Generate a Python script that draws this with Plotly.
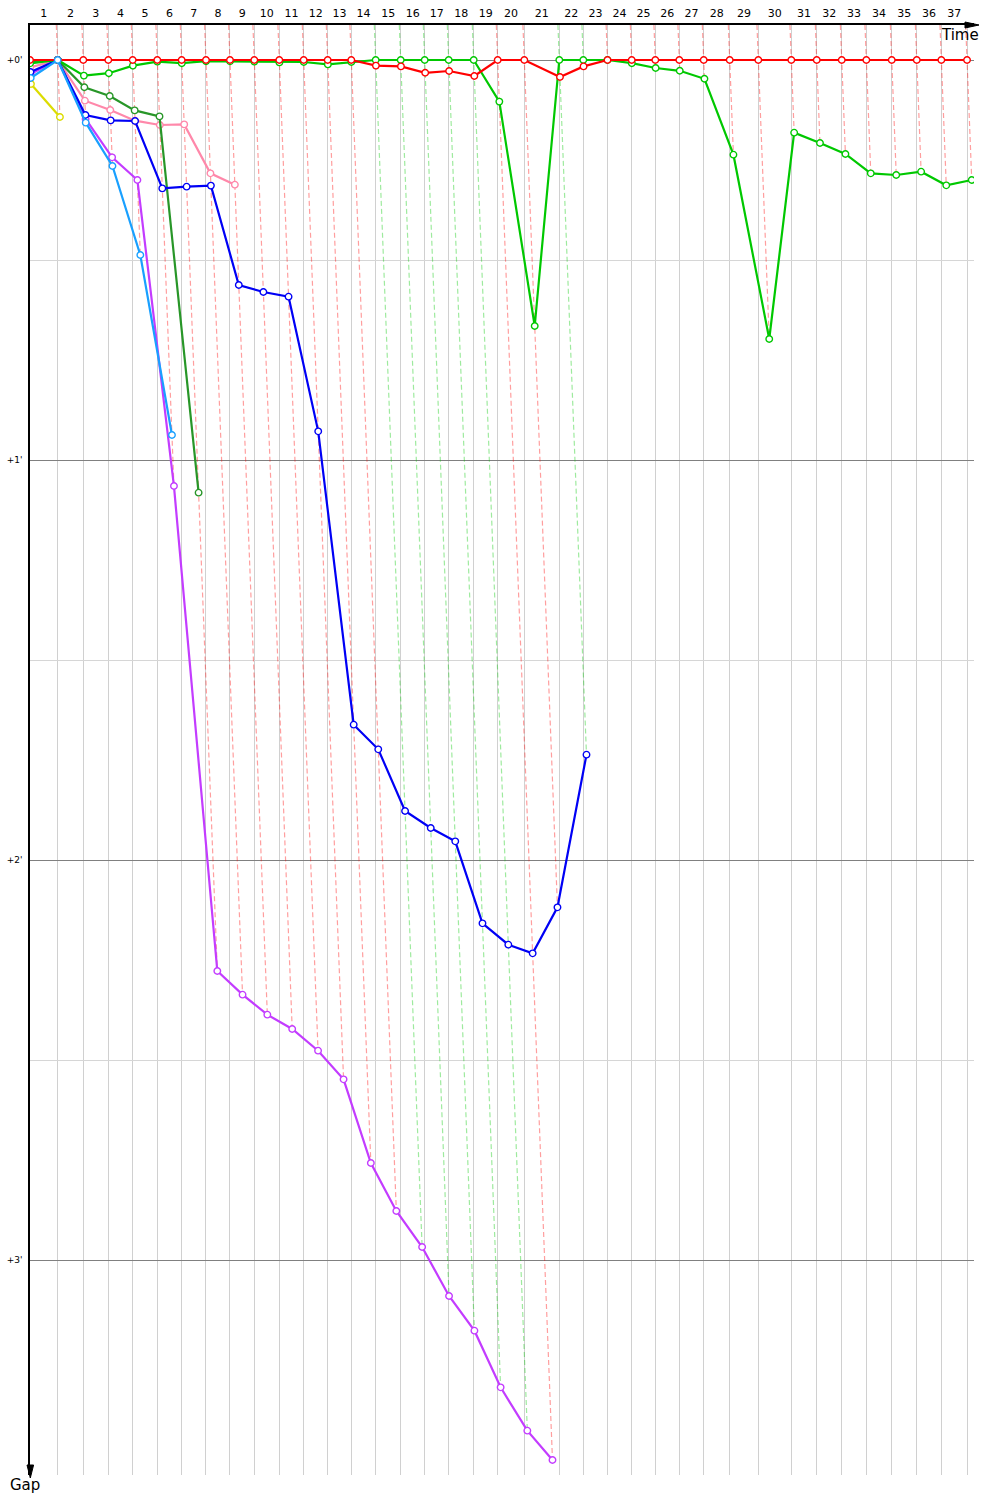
import numpy as np
import plotly.graph_objects as go

# ---------------- data ----------------
laps = list(range(1, 38))
# leader lap times (seconds)
leader_lap_times = [106.2, 98.1, 95.9, 93.5, 94.3, 93.5, 93.2, 92.0, 93.2, 95.9,
                    93.5, 92.0, 90.5, 93.5, 95.9, 92.0, 92.0, 95.9, 92.0, 102.0,
                    134.2, 92.0, 92.8, 92.8, 90.5, 92.0, 93.5, 99.7, 109.7, 126.5,
                    97.4, 95.9, 94.3, 97.4, 95.9, 94.3, 98.5]
# which car leads at the end of each lap (R = red car, G = green car)
lap_leader = ["R"] * 13 + ["G"] * 5 + ["R", "R", "G", "G"] + ["R"] * 15

# gaps to leader in seconds, index 0 = start, index k = end of lap k
gap_red = [0, 0, 0, 0, 0, 0, 0, 0, 0, 0, 0, 0, 0, 0, 0.84, 0.96, 1.92, 1.65, 2.4,
           0, 0, 2.55, 0.96, 0, 0, 0, 0, 0, 0, 0, 0, 0, 0, 0, 0, 0, 0, 0]
gap_green = [0.5, 0, 2.34, 1.98, 0.84, 0.24, 0.48, 0.18, 0.2, 0.24, 0.36, 0.3, 0.66,
             0.3, 0, 0, 0, 0, 0, 6.24, 39.9, 0, 0, 0, 0.48, 1.2, 1.62, 2.82, 14.2,
             41.85, 10.9, 12.45, 14.1, 17.0, 17.25, 16.75, 18.8, 18.0]
gap_darkgreen = [0.3, 0, 4.08, 5.4, 7.56, 8.46, 64.9]
gap_pink = [1.1, 0, 6.1, 7.5, 9.1, 9.75, 9.66, 17.0, 18.7]
gap_blue = [1.8, 0, 8.25, 9.06, 9.15, 19.26, 19.0, 18.84, 33.75, 34.8, 35.5, 55.7,
            99.7, 103.4, 112.65, 115.2, 117.2, 129.5, 132.7, 134.0, 127.1, 104.2]
gap_magenta = [2.1, 0, 8.85, 14.6, 18.0, 63.9, 136.65, 140.2, 143.2, 145.35, 148.6,
               152.9, 165.45, 172.65, 178.05, 185.4, 190.6, 199.1, 205.6, 210.0]
gap_lightblue = [2.7, 0, 9.4, 15.9, 29.25, 56.25]
gap_yellow = [3.6, 8.55]

gap_ticks = [0, 60, 120, 180]
gap_ticktext = ["+0'", "+1'", "+2'", "+3'"]
gap_minor = [30, 90, 150]

# ---------------- geometry ----------------
W, H = 1000, 1500
ML, MR, MT, MB = 30, 26, 25, 25
PX_PER_S_X = 15.65 / 60.0
PX_PER_S_Y = 400 / 60.0
plot_w = W - ML - MR
plot_h = H - MT - MB
x_max = plot_w / PX_PER_S_X
y_top = -(60 - MT) / PX_PER_S_Y
y_bot = y_top + plot_h / PX_PER_S_Y

t = np.concatenate([[0.0], np.cumsum(leader_lap_times)])

cars = [
    ("Yellow", "rgb(220,220,0)", gap_yellow),
    ("Pink", "rgb(255,136,170)", gap_pink),
    ("Magenta", "rgb(195,60,255)", gap_magenta),
    ("DarkGreen", "rgb(40,150,40)", gap_darkgreen),
    ("Blue", "rgb(0,0,245)", gap_blue),
    ("Green", "rgb(0,200,0)", gap_green),
    ("Red", "rgb(255,0,0)", gap_red),
    ("LightBlue", "rgb(25,160,255)", gap_lightblue),
]

fig = go.Figure()

# dashed lap lines (slanted: x = leader time + gap)
dash_cols = {"R": "rgba(255,0,0,0.38)", "G": "rgba(0,200,0,0.38)"}
for key, col in dash_cols.items():
    xs, ys = [], []
    for k in laps:
        if lap_leader[k - 1] != key:
            continue
        gmax = max(g[k] for _, _, g in cars if len(g) > k)
        xs += [t[k] + y_top, t[k] + gmax, None]
        ys += [y_top, gmax, None]
    fig.add_trace(go.Scatter(x=xs, y=ys, mode="lines", hoverinfo="skip",
                             line=dict(color=col, width=1.2, dash="5px,3px"),
                             showlegend=False))

for name, col, g in cars:
    g = np.array(g, dtype=float)
    xs = t[:len(g)] + g
    fig.add_trace(go.Scatter(
        x=xs, y=g, mode="lines+markers", name=name, showlegend=False,
        line=dict(color=col, width=2.2),
        marker=dict(symbol="circle", size=6.5, color="white",
                    line=dict(color=col, width=1.4)),
    ))

mid = (t[:-1] + t[1:]) / 2.0
fig.update_xaxes(
    range=[0, x_max], side="top", showgrid=False, zeroline=False, automargin=False,
    tickmode="array", tickvals=mid, ticktext=[str(k) for k in laps],
    ticks="outside", ticklen=2, tickcolor="rgba(0,0,0,0)",
    tickfont=dict(family="DejaVu Sans", size=11, color="black"),
    showline=True, linecolor="black", linewidth=1.5,
    minor=dict(tickmode="array", tickvals=list(t[1:]), showgrid=True,
               gridcolor="#d0d0d0", gridwidth=1, ticks=""),
)
fig.update_yaxes(
    range=[y_bot, y_top], zeroline=False, automargin=False,
    tickmode="array", tickvals=gap_ticks, ticktext=gap_ticktext,
    ticks="outside", ticklen=4, tickcolor="rgba(0,0,0,0)",
    tickfont=dict(family="DejaVu Sans", size=9, color="black"),
    showgrid=True, gridcolor="#808080", gridwidth=1,
    showline=True, linecolor="black", linewidth=1.5,
    minor=dict(tickmode="array", tickvals=gap_minor, showgrid=True,
               gridcolor="#d6d6d6", gridwidth=1, ticks=""),
)


def px2paper(px, py):
    return (px - ML) / plot_w, (H - MB - py) / plot_h


# arrow heads
ax0, ay0 = px2paper(965, 22)
ax1, ay1 = px2paper(979, 25)
ax2, ay2 = px2paper(965, 28)
bx0, by0 = px2paper(27, 1465)
bx1, by1 = px2paper(30.3, 1478)
bx2, by2 = px2paper(33.6, 1465)
lx0, ly0 = px2paper(W - MR, 25)
lx1, ly1 = px2paper(966, 25)
fig.add_shape(type="line", xref="paper", yref="paper", x0=lx0, y0=ly0, x1=lx1, y1=ly1,
              line=dict(color="black", width=1.5))
fig.add_shape(type="path", xref="paper", yref="paper",
              path=f"M {ax0} {ay0} L {ax1} {ay1} L {ax2} {ay2} Z",
              fillcolor="black", line=dict(color="black", width=1))
fig.add_shape(type="path", xref="paper", yref="paper",
              path=f"M {bx0} {by0} L {bx1} {by1} L {bx2} {by2} Z",
              fillcolor="black", line=dict(color="black", width=1))

tx, ty = px2paper(960, 35)
gx, gy = px2paper(25, 1485)
fig.add_annotation(x=tx, y=ty, xref="paper", yref="paper", text="Time", showarrow=False,
                   font=dict(family="DejaVu Sans", size=15, color="black"),
                   xanchor="center", yanchor="middle")
fig.add_annotation(x=gx, y=gy, xref="paper", yref="paper", text="Gap", showarrow=False,
                   font=dict(family="DejaVu Sans", size=15, color="black"),
                   xanchor="center", yanchor="middle")

fig.update_layout(
    width=W, height=H, margin=dict(l=ML, r=MR, t=MT, b=MB),
    paper_bgcolor="white", plot_bgcolor="white", showlegend=False,
)

fig.write_html("out.html", config={"displayModeBar": False},
               post_script="document.body.style.margin='0';")
